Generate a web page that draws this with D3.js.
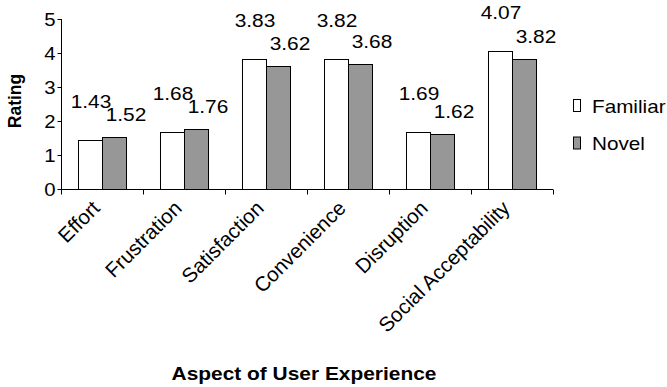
<!DOCTYPE html>
<html>
<head>
<meta charset="utf-8">
<script src="https://cdn.jsdelivr.net/npm/d3@7"></script>
<style>
  html, body { margin: 0; padding: 0; background: #fff; }
  svg { display: block; }
  text { font-family: "Liberation Sans", Arial, Helvetica, sans-serif; fill: #000; }
</style>
</head>
<body>
<div id="chart"></div>
<script>
// ---- data ----
const categories = ["Effort", "Frustration", "Satisfaction", "Convenience", "Disruption", "Social Acceptability"];
const seriesNames = ["Familiar", "Novel"];
const familiar = [1.43, 1.68, 3.83, 3.82, 1.69, 4.07];
const novel = [1.52, 1.76, 3.62, 3.68, 1.62, 3.82];
const yTicks = [0, 1, 2, 3, 4, 5];

// ---- layout ----
const W = 667, H = 387;
const m = { left: 61, right: 114, top: 19, bottom: 198 };
const plotW = W - m.left - m.right;   // 492
const plotH = H - m.top - m.bottom;   // 170
const colors = { Familiar: "#ffffff", Novel: "#979797" };
const SX = 1.13; // horizontal stretch of upright text as in the original

const svg = d3.select("#chart").append("svg")
  .attr("width", W).attr("height", H);
svg.append("rect").attr("width", W).attr("height", H).attr("fill", "#fff");

const g = svg.append("g").attr("transform", `translate(${m.left},${m.top})`);

const x0 = d3.scaleBand().domain(categories).range([0, plotW]).paddingInner(0).paddingOuter(0);
const bw = x0.bandwidth();
const x1 = d3.scaleBand().domain(seriesNames).range([0, bw]).paddingInner(0).paddingOuter(0.708);
const y = d3.scaleLinear().domain([0, 5]).range([plotH, 0]);

const rows = categories.map((c, i) => ({ cat: c, vals: [
  { s: "Familiar", v: familiar[i] },
  { s: "Novel", v: novel[i] }
]}));

// bars
const grp = g.selectAll("g.cat").data(rows).join("g")
  .attr("class", "cat")
  .attr("transform", d => `translate(${x0(d.cat)},0)`);

grp.selectAll("rect").data(d => d.vals).join("rect")
  .attr("x", d => x1(d.s) + 0.5)
  .attr("y", d => Math.round(y(d.v)) + 0.5)
  .attr("width", x1.bandwidth())
  .attr("height", d => plotH - Math.round(y(d.v)))
  .attr("fill", d => colors[d.s])
  .attr("stroke", "#000")
  .attr("stroke-width", 1);

// value labels
const labelOff = { Familiar: { dx: 1, dy: -32 }, Novel: { dx: 12, dy: -16 } };
grp.selectAll("text.val").data(d => d.vals).join("text")
  .attr("class", "val")
  .attr("transform", d => `translate(${x1(d.s) + x1.bandwidth() / 2 + labelOff[d.s].dx},${y(d.v) + labelOff[d.s].dy}) scale(${SX},1)`)
  .attr("text-anchor", "middle")
  .style("font-size", "18.5px")
  .text(d => d.v.toFixed(2));

// y axis
const yAxis = d3.axisLeft(y).tickValues(yTicks).tickSize(4).tickPadding(3).tickFormat(d3.format("d"));
const ya = g.append("g").attr("transform", "translate(0.5,0)").call(yAxis);
ya.select(".domain").attr("d", `M0,${y(5)}V${plotH + 0.5}`).attr("stroke", "#000");
ya.selectAll(".tick line").attr("stroke", "#000");
ya.selectAll(".tick text")
  .attr("x", null).attr("dy", null)
  .attr("transform", function() { return `translate(-6,6.5) scale(1.1,1)`; })
  .attr("text-anchor", "end")
  .style("font-size", "18.5px")
  .style("font-family", '"Liberation Sans", Arial, sans-serif');

// x axis
const xa = g.append("g").attr("transform", `translate(0,${plotH + 0.5})`);
xa.append("line").attr("x1", 0).attr("x2", plotW).attr("stroke", "#000");
xa.selectAll("line.tk").data(categories.concat(["__end"])).join("line")
  .attr("class", "tk")
  .attr("x1", (d, i) => Math.round(i < categories.length ? x0(d) : plotW) + 0.5)
  .attr("x2", (d, i) => Math.round(i < categories.length ? x0(d) : plotW) + 0.5)
  .attr("y1", 0).attr("y2", 5)
  .attr("stroke", "#000");

xa.selectAll("text.xl").data(categories).join("text")
  .attr("class", "xl")
  .attr("transform", d => `translate(${x0(d) + bw / 2 - 1},${20}) rotate(-45)`)
  .attr("text-anchor", "end")
  .style("font-size", "20.5px")
  .text(d => d);

// axis titles
svg.append("text")
  .attr("transform", `translate(21,${m.top + plotH / 2 - 3}) rotate(-90)`)
  .attr("text-anchor", "middle")
  .style("font-size", "17.5px")
  .style("font-weight", "bold")
  .text("Rating");

svg.append("text")
  .attr("transform", `translate(${m.left + plotW / 2 - 3},380) scale(1.1,1)`)
  .attr("text-anchor", "middle")
  .style("font-size", "19px")
  .style("font-weight", "bold")
  .text("Aspect of User Experience");

// legend
const leg = svg.append("g").attr("transform", "translate(573,99)");
const li = leg.selectAll("g").data(seriesNames).join("g")
  .attr("transform", (d, i) => `translate(0,${i * 37.5})`);
li.append("rect")
  .attr("x", 0.5).attr("y", 0.5).attr("width", 7).attr("height", 12)
  .attr("fill", d => colors[d]).attr("stroke", "#000");
li.append("text")
  .attr("transform", `translate(19,13.5) scale(1.15,1)`)
  .style("font-size", "18px")
  .text(d => d);
</script>
</body>
</html>
